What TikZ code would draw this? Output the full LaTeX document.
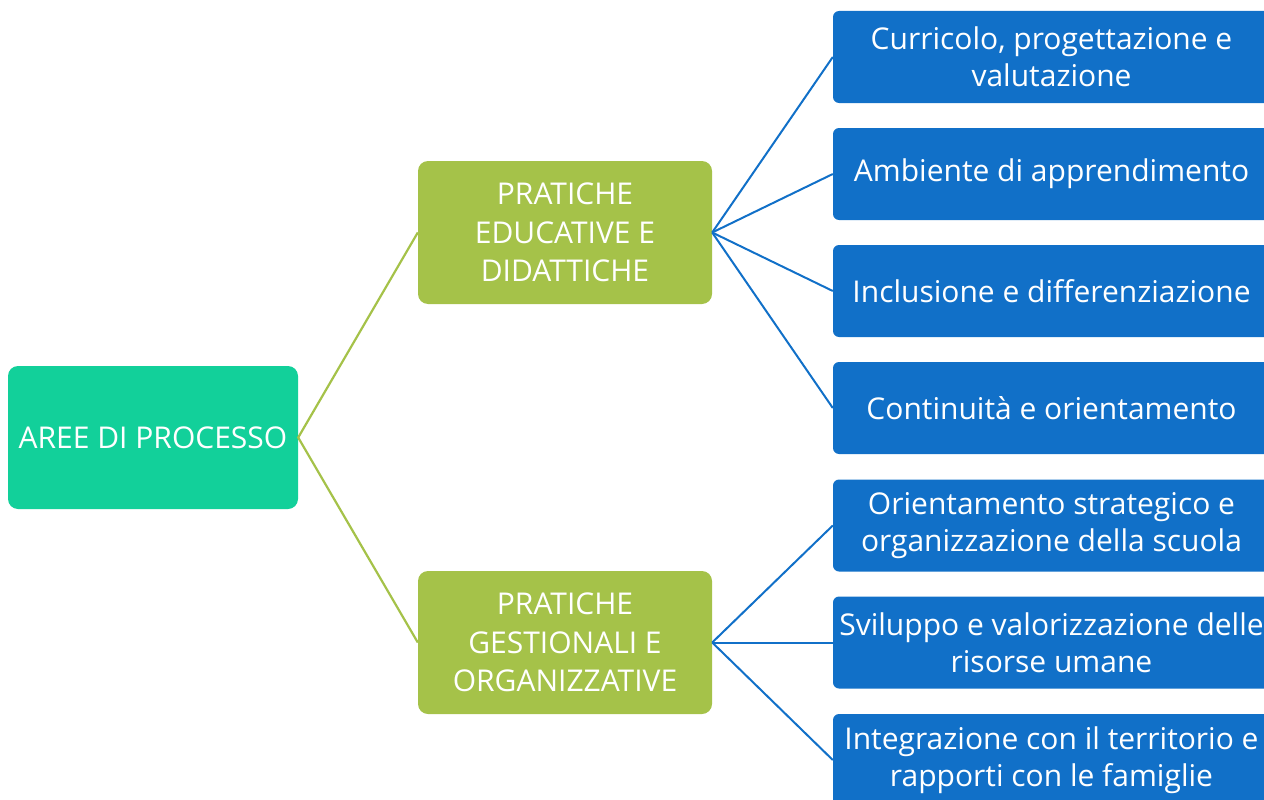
\documentclass[tikz,border=0pt]{standalone}
\usepackage{fontspec}
\setmainfont{Open Sans}
\definecolor{rootc}{RGB}{18,208,154}
\definecolor{greenc}{RGB}{165,194,73}
\definecolor{bluec}{RGB}{17,112,200}
\begin{document}
\begin{tikzpicture}[x=1pt,y=-1pt,
  base/.style={text=white,align=center,inner sep=0pt,font=\fontsize{30}{38.5}\selectfont},
  rootbox/.style={base,fill=rootc,rounded corners=10pt,minimum width=290pt,minimum height=143pt},
  greenbox/.style={base,fill=greenc,rounded corners=10pt,minimum width=294pt,minimum height=143pt},
  bluebox/.style={base,fill=bluec,rounded corners=6pt,minimum width=437pt,minimum height=92pt,font=\fontsize{30}{37}\selectfont},
  gline/.style={draw=greenc,line width=2.2pt},
  bline/.style={draw=bluec,line width=2pt}]
\useasboundingbox (0,0) rectangle (1264,800);
\clip (0,0) rectangle (1264,800);
\node[rootbox] (root) at (153,437.5) {AREE DI PROCESSO};
\node[greenbox] (g1) at (565,232.5) {PRATICHE\\EDUCATIVE E\\DIDATTICHE};
\node[greenbox] (g2) at (565,642.5) {PRATICHE\\GESTIONALI E\\ORGANIZZATIVE};
\node[bluebox] (b1) at (1051.5,57) {Curricolo, progettazione e\\valutazione};
\node[bluebox] (b2) at (1051.5,174) {Ambiente di apprendimento};
\node[bluebox] (b3) at (1051.5,291) {Inclusione e differenziazione};
\node[bluebox] (b4) at (1051.5,408) {Continuità e orientamento};
\node[bluebox] (b5) at (1051.5,525.5) {Orientamento strategico e\\organizzazione della scuola};
\node[bluebox] (b6) at (1051.5,642.5) {Sviluppo e valorizzazione delle\\risorse umane};
\node[bluebox] (b7) at (1051.5,760) {Integrazione con il territorio e\\rapporti con le famiglie};
\draw[gline] (g1.west) -- (root.east) -- (g2.west);
\foreach \b in {b1,b2,b3,b4} \draw[bline] (g1.east) -- (\b.west);
\foreach \b in {b5,b6,b7} \draw[bline] (g2.east) -- (\b.west);
\end{tikzpicture}
\end{document}
